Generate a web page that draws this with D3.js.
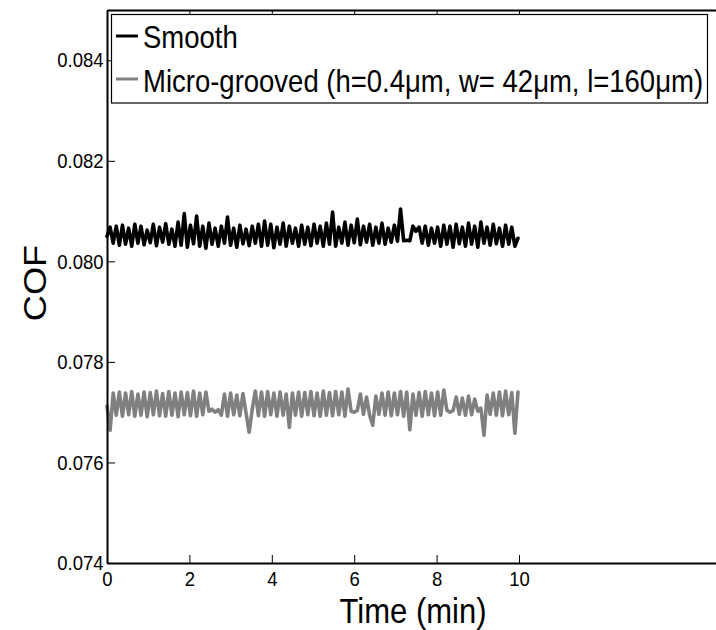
<!DOCTYPE html>
<html>
<head>
<meta charset="utf-8">
<script src="https://cdn.jsdelivr.net/npm/d3@7"></script>
<style>
  html, body { margin: 0; padding: 0; background: #fff; }
  svg { display: block; font-family: "Liberation Sans", Arial, sans-serif; }
</style>
</head>
<body>
<svg id="chart" width="716" height="630"></svg>
<script>
// ---- data ----
const sampleStep = 0.075; // minutes between samples
const smoothCOF = [
  0.08050,0.08068,0.08036,0.08070,0.08032,0.08072,0.08034,0.08066,0.08030,0.08074,
  0.08036,0.08070,0.08033,0.08062,0.08037,0.08074,0.08031,0.08068,0.08038,0.08075,
  0.08034,0.08064,0.08030,0.08078,0.08032,0.08095,0.08028,0.08072,0.08035,0.08090,
  0.08030,0.08070,0.08026,0.08076,0.08034,0.08066,0.08030,0.08070,0.08036,0.08088,
  0.08032,0.08066,0.08028,0.08072,0.08035,0.08064,0.08031,0.08070,0.08036,0.08074,
  0.08030,0.08080,0.08032,0.08074,0.08027,0.08068,0.08034,0.08076,0.08030,0.08070,
  0.08036,0.08066,0.08030,0.08072,0.08034,0.08068,0.08031,0.08074,0.08036,0.08070,
  0.08030,0.08076,0.08034,0.08098,0.08030,0.08068,0.08036,0.08078,0.08032,0.08072,
  0.08037,0.08084,0.08033,0.08070,0.08038,0.08074,0.08032,0.08068,0.08036,0.08076,
  0.08034,0.08066,0.08038,0.08072,0.08040,0.08104,0.08041,0.08042,0.08041,0.08070,
  0.08060,0.08068,0.08036,0.08070,0.08032,0.08066,0.08036,0.08068,0.08030,0.08072,
  0.08034,0.08070,0.08028,0.08074,0.08035,0.08068,0.08030,0.08076,0.08034,0.08070,
  0.08028,0.08078,0.08036,0.08068,0.08032,0.08074,0.08035,0.08066,0.08030,0.08072,
  0.08034,0.08068,0.08030,0.08046
];
const groovedCOF = [
  0.07712,0.07664,0.07738,0.07694,0.07740,0.07692,0.07738,0.07695,0.07741,0.07692,
  0.07736,0.07694,0.07740,0.07691,0.07739,0.07695,0.07742,0.07693,0.07737,0.07692,
  0.07741,0.07694,0.07738,0.07691,0.07740,0.07695,0.07739,0.07693,0.07742,0.07692,
  0.07738,0.07695,0.07740,0.07702,0.07706,0.07700,0.07705,0.07694,0.07736,0.07692,
  0.07738,0.07695,0.07734,0.07693,0.07737,0.07698,0.07660,0.07706,0.07742,0.07693,
  0.07740,0.07692,0.07741,0.07695,0.07738,0.07692,0.07740,0.07694,0.07736,0.07670,
  0.07738,0.07694,0.07740,0.07692,0.07739,0.07695,0.07741,0.07693,0.07738,0.07692,
  0.07742,0.07694,0.07739,0.07693,0.07741,0.07695,0.07740,0.07692,0.07746,0.07702,
  0.07700,0.07703,0.07736,0.07696,0.07730,0.07694,0.07674,0.07732,0.07696,0.07738,
  0.07694,0.07740,0.07693,0.07738,0.07695,0.07741,0.07692,0.07740,0.07665,0.07736,
  0.07694,0.07739,0.07692,0.07741,0.07695,0.07738,0.07693,0.07740,0.07694,0.07744,
  0.07704,0.07700,0.07703,0.07730,0.07696,0.07728,0.07694,0.07732,0.07695,0.07726,
  0.07702,0.07708,0.07654,0.07734,0.07696,0.07738,0.07694,0.07740,0.07693,0.07742,
  0.07695,0.07739,0.07658,0.07740
];
const xTicks = [0, 2, 4, 6, 8, 10];
const yTicks = [0.074, 0.076, 0.078, 0.080, 0.082, 0.084];
const seriesNames = ["Smooth", "Micro-grooved (h=0.4\u03BCm, w= 42\u03BCm, l=160\u03BCm)"];
const seriesColors = ["#000000", "#808080"];
const xLabel = "Time (min)";
const yLabel = "COF";

// ---- layout ----
const SY = 1.13; // vertical text stretch seen in the reference
const svg = d3.select("#chart");
const x = d3.scaleLinear().domain([0, 15]).range([107, 725]);
const y = d3.scaleLinear().domain([0.074, 0.085]).range([563, 10]);

// series
const line = d3.line()
  .x((d, i) => x(i * sampleStep))
  .y(d => y(d));
[smoothCOF, groovedCOF].forEach((s, k) => {
  svg.append("path")
    .attr("d", line(s))
    .attr("fill", "none")
    .attr("stroke", seriesColors[k])
    .attr("stroke-width", 3.6)
    .attr("stroke-linejoin", "round")
    .attr("stroke-linecap", "round");
});

// axes
function styleAxis(g) {
  g.select(".domain").attr("stroke", "#000").attr("stroke-width", 2);
  g.selectAll(".tick line").attr("stroke", "#000").attr("stroke-width", 1);
  g.selectAll(".tick text").attr("fill", "#000")
    .style("font-family", "'Liberation Sans', Arial, sans-serif")
    .style("font-size", "18.5px");
}
const gx = svg.append("g").attr("transform", "translate(0,563)")
  .call(d3.axisBottom(x).tickValues(xTicks).tickFormat(d3.format("d"))
    .tickSizeInner(-8).tickSizeOuter(0).tickPadding(7.5));
styleAxis(gx);
gx.selectAll(".tick text").attr("transform", `scale(1,${SY})`);

const gt = svg.append("g").attr("transform", "translate(0,10)")
  .call(d3.axisTop(x).tickValues(xTicks).tickFormat("")
    .tickSizeInner(-8).tickSizeOuter(0));
styleAxis(gt);

const gy = svg.append("g").attr("transform", "translate(107,0)")
  .call(d3.axisLeft(y).tickValues(yTicks).tickFormat(d3.format(".3f"))
    .tickSizeInner(-8).tickSizeOuter(0).tickPadding(3.5));
styleAxis(gy);
gy.selectAll(".tick text").attr("transform", `scale(1,${SY})`);

// axis titles
svg.append("text")
  .attr("transform", `translate(413,623) scale(1,${SY})`)
  .attr("text-anchor", "middle")
  .style("font-size", "31px")
  .text(xLabel);
svg.append("text")
  .attr("transform", `translate(46,283) rotate(-90) scale(${SY},1)`)
  .attr("text-anchor", "middle")
  .style("font-size", "32px")
  .text(yLabel);

// legend
const lg = svg.append("g");
lg.append("rect")
  .attr("x", 111.5).attr("y", 14.5).attr("width", 596).attr("height", 88.5)
  .attr("fill", "#fff").attr("stroke", "#000").attr("stroke-width", 1.2);
const legendRows = [36, 79];
const legendBase = [48, 92];
seriesNames.forEach((name, k) => {
  lg.append("line")
    .attr("x1", 116).attr("x2", 138)
    .attr("y1", legendRows[k]).attr("y2", legendRows[k])
    .attr("stroke", seriesColors[k]).attr("stroke-width", 3);
  lg.append("text")
    .attr("transform", `translate(143,${legendBase[k]}) scale(1,${SY})`)
    .style("font-size", "27.5px")
    .attr("fill", "#000")
    .text(name);
});
</script>
</body>
</html>
